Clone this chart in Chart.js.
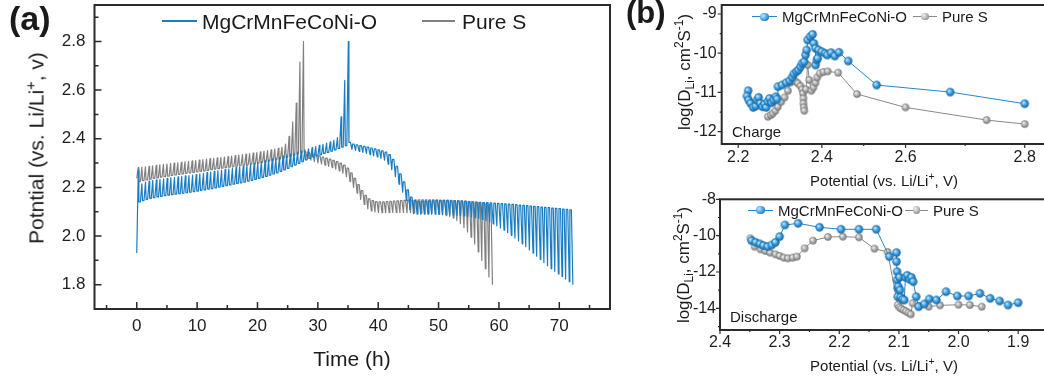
<!DOCTYPE html>
<html>
<head>
<meta charset="utf-8">
<script src="https://cdn.jsdelivr.net/npm/chart.js@4.4.1/dist/chart.umd.min.js"></script>
<style>
html,body{margin:0;padding:0;background:#fff;overflow:hidden;}
#root{position:relative;width:1044px;height:381px;overflow:hidden;font-family:'Liberation Sans',Arial,sans-serif;color:#1a1a1a;background:#fff;}
canvas{position:absolute;}
.t{position:absolute;white-space:nowrap;line-height:1;}
.c{transform:translate(-50%,0);}
.rot{transform:translate(-50%,-50%) rotate(-90deg);}
.t sup,.t sub{font-size:70%;line-height:0;}
.ln{position:absolute;}
.dot{position:absolute;border-radius:50%;}
</style>
</head>
<body>
<div id="root">
  <canvas id="cA" width="620" height="381" style="left:0;top:0"></canvas>
  <canvas id="cB1" width="410" height="190" style="left:640px;top:0"></canvas>
  <canvas id="cB2" width="410" height="191" style="left:640px;top:190px"></canvas>

  <div class="t" style="left:9px;top:1px;font-size:34px;font-weight:bold;">(a)</div>
  <div class="t" style="left:626px;top:-3px;font-size:31px;font-weight:bold;">(b)</div>

  <!-- legend (a) -->
  <div class="ln" style="left:162px;top:20px;width:35px;height:2px;background:#1a7dc3"></div>
  <div class="t" style="left:202px;top:10.7px;font-size:21px;">MgCrMnFeCoNi-O</div>
  <div class="ln" style="left:422px;top:20px;width:33px;height:2px;background:#808080"></div>
  <div class="t" style="left:462px;top:10.7px;font-size:21px;">Pure S</div>

  <!-- axis titles (a) -->
  <div class="t rot" style="left:36px;top:148px;font-size:21px;">Potntial (vs. Li/Li<sup>+</sup>, v)</div>
  <div class="t c" style="left:352px;top:347.7px;font-size:21px;">Time (h)</div>

  <!-- legend (b) top -->
  <div class="ln" style="left:752px;top:16.2px;width:25px;height:1px;background:#2586c8"></div>
  <div class="dot" style="left:760.3px;top:12.5px;width:8.4px;height:8.4px;background:radial-gradient(circle at 35% 35%,#bfe6ff 0%,#2f93d6 60%,#145f99 100%)"></div>
  <div class="t" style="left:782px;top:9.4px;font-size:15px;">MgCrMnFeCoNi-O</div>
  <div class="ln" style="left:913px;top:16.2px;width:24px;height:1px;background:#8a8a8a"></div>
  <div class="dot" style="left:921.3px;top:13px;width:7.4px;height:7.4px;background:radial-gradient(circle at 35% 35%,#f0f0f0 0%,#a6a6a6 60%,#6e6e6e 100%)"></div>
  <div class="t" style="left:942px;top:9.4px;font-size:15px;">Pure S</div>

  <div class="t" style="left:732px;top:123.6px;font-size:15px;">Charge</div>
  <div class="t rot" style="left:684px;top:72px;font-size:17px;">log(D<sub>Li</sub>, cm<sup>2</sup>S<sup>-1</sup>)</div>
  <div class="t c" style="left:884px;top:172.6px;font-size:15px;">Potential (vs. Li/Li<sup>+</sup>, V)</div>

  <!-- legend (b) bottom -->
  <div class="ln" style="left:748px;top:209.5px;width:25px;height:1px;background:#2586c8"></div>
  <div class="dot" style="left:756.3px;top:205.8px;width:8.4px;height:8.4px;background:radial-gradient(circle at 35% 35%,#bfe6ff 0%,#2f93d6 60%,#145f99 100%)"></div>
  <div class="t" style="left:778px;top:202.6px;font-size:15px;">MgCrMnFeCoNi-O</div>
  <div class="ln" style="left:905px;top:209.5px;width:23px;height:1px;background:#8a8a8a"></div>
  <div class="dot" style="left:912.8px;top:206.3px;width:7.4px;height:7.4px;background:radial-gradient(circle at 35% 35%,#f0f0f0 0%,#a6a6a6 60%,#6e6e6e 100%)"></div>
  <div class="t" style="left:933px;top:202.6px;font-size:15px;">Pure S</div>

  <div class="t" style="left:730px;top:309.3px;font-size:15px;">Discharge</div>
  <div class="t rot" style="left:683px;top:265px;font-size:17px;">log(D<sub>Li</sub>, cm<sup>2</sup>S<sup>-1</sup>)</div>
  <div class="t c" style="left:884px;top:357.6px;font-size:15px;">Potential (vs. Li/Li<sup>+</sup>, V)</div>
</div>

<script>
// ================= DATA =================
// (a) GITT curves: pulse start times (h), relaxed voltage and pulse-end voltage (V)
const blueStartV = 1.93;
const blueChargeTime = [0,0.6,1.2,1.8,2.4,3,3.6,4.2,4.8,5.4,6,6.6,7.2,7.8,8.4,9,9.6,10.2,10.8,11.4,12,12.6,13.2,13.8,14.4,15,15.6,16.2,16.8,17.4,18,18.6,19.2,19.8,20.4,21,21.6,22.2,22.8,23.4,24,24.6,25.2,25.8,26.4,27,27.6,28.2,28.8,29.4,30,30.6,31.2,31.8,32.4,33,33.6,34.2,34.8];
const blueChargeRest = [2.140,2.146,2.151,2.155,2.158,2.161,2.163,2.166,2.168,2.170,2.172,2.174,2.176,2.178,2.180,2.183,2.185,2.188,2.190,2.193,2.195,2.198,2.201,2.204,2.207,2.210,2.213,2.216,2.219,2.222,2.226,2.229,2.233,2.237,2.241,2.245,2.250,2.255,2.260,2.266,2.272,2.278,2.285,2.292,2.299,2.306,2.313,2.319,2.325,2.330,2.335,2.340,2.344,2.349,2.354,2.360,2.366,2.372,2.385];
const blueChargeTip = [2.270,2.215,2.222,2.226,2.229,2.231,2.233,2.235,2.237,2.239,2.241,2.243,2.245,2.247,2.249,2.251,2.253,2.256,2.258,2.261,2.263,2.266,2.268,2.271,2.274,2.276,2.279,2.282,2.285,2.288,2.291,2.294,2.298,2.301,2.305,2.309,2.313,2.317,2.321,2.325,2.329,2.333,2.337,2.341,2.345,2.350,2.355,2.359,2.364,2.368,2.373,2.377,2.382,2.387,2.393,2.405,2.490,2.640,2.800];
const blueDischargeTime = [35.4,36,36.6,37.2,37.8,38.4,39,39.6,40.2,40.8,41.4,42,42.6,43.2,43.8,44.4,45,45.6,46.2,46.8,47.4,48,48.6,49.2,49.8,50.4,51,51.6,52.2,52.8,53.4,54,54.6,55.2,55.8,56.4,57,57.6,58.2,58.8,59.4,60,60.6,61.2,61.8,62.4,63,63.6,64.2,64.8,65.4,66,66.6,67.2,67.8,68.4,69,69.6,70.2,70.8,71.4,72];
const blueDischargeRest = [2.378,2.375,2.372,2.369,2.366,2.362,2.358,2.354,2.350,2.345,2.335,2.315,2.287,2.256,2.223,2.190,2.160,2.146,2.143,2.143,2.144,2.145,2.145,2.146,2.146,2.146,2.146,2.145,2.145,2.144,2.144,2.143,2.142,2.141,2.140,2.139,2.138,2.137,2.136,2.135,2.134,2.133,2.132,2.131,2.130,2.129,2.127,2.126,2.125,2.123,2.122,2.121,2.119,2.118,2.117,2.115,2.114,2.113,2.111,2.110,2.108,2.107];
const blueDischargeTip = [2.356,2.352,2.348,2.344,2.340,2.335,2.330,2.325,2.319,2.312,2.296,2.273,2.244,2.213,2.180,2.147,2.108,2.092,2.090,2.090,2.090,2.090,2.090,2.090,2.090,2.089,2.089,2.088,2.087,2.086,2.085,2.083,2.081,2.079,2.076,2.072,2.068,2.063,2.057,2.050,2.042,2.033,2.024,2.014,2.003,1.992,1.980,1.968,1.956,1.943,1.930,1.917,1.904,1.891,1.878,1.866,1.855,1.844,1.834,1.823,1.812,1.800];

const grayStartV = 2.237;
const grayChargeTime = [0,0.6,1.19,1.79,2.38,2.98,3.57,4.17,4.76,5.36,5.95,6.55,7.14,7.74,8.33,8.93,9.52,10.12,10.71,11.31,11.9,12.5,13.09,13.69,14.28,14.88,15.47,16.07,16.66,17.26,17.85,18.45,19.04,19.64,20.23,20.83,21.42,22.02,22.61,23.21,23.8,24.4,24.99,25.59,26.18,26.78,27.37];
const grayChargeRest = [2.224,2.228,2.231,2.234,2.237,2.239,2.242,2.244,2.246,2.249,2.251,2.253,2.255,2.258,2.260,2.262,2.264,2.266,2.268,2.270,2.273,2.275,2.277,2.279,2.281,2.283,2.285,2.287,2.289,2.291,2.293,2.296,2.298,2.300,2.303,2.305,2.308,2.311,2.314,2.317,2.320,2.323,2.327,2.332,2.337,2.342,2.346];
const grayChargeTip = [2.281,2.283,2.285,2.287,2.289,2.291,2.293,2.295,2.296,2.298,2.300,2.301,2.303,2.305,2.307,2.309,2.310,2.312,2.314,2.316,2.318,2.319,2.321,2.323,2.325,2.327,2.329,2.331,2.333,2.335,2.337,2.339,2.341,2.343,2.346,2.349,2.351,2.354,2.357,2.361,2.366,2.378,2.410,2.470,2.547,2.715,2.800];
const grayDischargeTime = [28,28.59,29.18,29.77,30.36,30.95,31.54,32.13,32.72,33.31,33.9,34.49,35.08,35.67,36.26,36.85,37.44,38.03,38.62,39.21,39.8,40.39,40.98,41.57,42.16,42.75,43.34,43.93,44.52,45.11,45.7,46.29,46.88,47.47,48.06,48.65,49.24,49.83,50.42,51.01,51.6,52.19,52.78,53.37,53.96,54.55,55.14,55.73,56.32,56.91,57.5,58.09,58.68];
const grayDischargeRest = [2.345,2.340,2.335,2.330,2.325,2.320,2.316,2.311,2.306,2.300,2.292,2.279,2.260,2.237,2.212,2.187,2.167,2.153,2.146,2.142,2.141,2.141,2.142,2.143,2.144,2.145,2.146,2.147,2.148,2.148,2.149,2.149,2.149,2.149,2.149,2.149,2.149,2.148,2.148,2.148,2.147,2.146,2.146,2.145,2.144,2.142,2.141,2.139,2.137,2.135,2.133,2.130,2.127];
const grayDischargeTip = [2.318,2.312,2.306,2.301,2.296,2.291,2.286,2.281,2.275,2.268,2.259,2.244,2.224,2.200,2.176,2.151,2.130,2.112,2.103,2.099,2.097,2.096,2.096,2.096,2.097,2.097,2.097,2.097,2.096,2.096,2.095,2.095,2.094,2.094,2.093,2.092,2.091,2.089,2.087,2.084,2.080,2.074,2.064,2.051,2.035,2.017,1.995,1.967,1.935,1.900,1.866,1.832,1.800];

// (b) Charge: potential (V) and log(D_Li)
const chargeMgV = [2.224,2.221,2.225,2.230,2.236,2.242,2.245,2.249,2.253,2.258,2.263,2.267,2.271,2.275,2.280,2.285,2.290,2.293,2.295,2.305,2.315,2.323,2.329,2.333,2.339,2.344,2.349,2.353,2.358,2.361,2.364,2.366,2.372,2.378,2.381,2.385,2.385,2.388,2.390,2.392,2.400,2.408,2.413,2.422,2.431,2.441,2.463,2.531,2.675,2.800];
const chargeMgLogD = [-10.956,-11.092,-11.194,-11.279,-11.381,-11.347,-11.194,-11.126,-11.279,-11.364,-11.296,-11.381,-11.236,-11.151,-11.262,-11.194,-11.109,-11.168,-10.854,-10.811,-10.752,-10.701,-10.616,-10.531,-10.471,-10.429,-10.344,-10.259,-10.216,-10.046,-9.918,-9.663,-9.578,-9.519,-9.748,-9.876,-10.301,-10.173,-10.131,-9.918,-9.961,-10.003,-10.046,-9.986,-10.071,-9.978,-10.199,-10.811,-10.990,-11.287];
const chargeSV = [2.271,2.278,2.283,2.289,2.295,2.303,2.311,2.319,2.324,2.331,2.337,2.343,2.349,2.353,2.355,2.356,2.356,2.357,2.358,2.362,2.366,2.370,2.375,2.380,2.385,2.389,2.395,2.404,2.414,2.439,2.484,2.600,2.736,2.800];
const chargeSLogD = [-11.619,-11.577,-11.534,-11.466,-11.364,-11.236,-11.126,-10.956,-10.752,-10.701,-10.718,-10.769,-10.837,-10.922,-11.024,-11.151,-11.279,-11.381,-11.466,-10.922,-10.301,-10.684,-10.956,-10.871,-10.752,-10.616,-10.514,-10.480,-10.463,-10.497,-11.041,-11.381,-11.704,-11.806];

// (b) Discharge: potential (V) and log(D_Li)
const dischargeMgV = [2.347,2.340,2.333,2.327,2.320,2.313,2.307,2.300,2.291,2.269,2.233,2.197,2.167,2.138,2.116,2.104,2.104,2.103,2.103,2.102,2.102,2.101,2.099,2.098,2.097,2.094,2.091,2.089,2.086,2.082,2.079,2.076,2.071,2.067,2.057,2.049,2.037,2.021,2.002,1.983,1.964,1.947,1.931,1.917,1.900];
const dischargeMgLogD = [-10.275,-10.367,-10.459,-10.550,-10.606,-10.514,-10.367,-10.055,-9.413,-9.321,-9.541,-9.651,-9.651,-9.651,-11.156,-10.936,-11.431,-11.982,-12.440,-12.899,-13.358,-12.807,-12.294,-12.991,-13.394,-13.505,-13.541,-12.294,-12.183,-12.404,-12.294,-12.532,-13.358,-13.908,-13.761,-13.486,-13.541,-13.083,-13.321,-13.321,-13.174,-13.450,-13.596,-13.817,-13.688];
const dischargeSV = [2.349,2.342,2.332,2.324,2.316,2.307,2.300,2.293,2.286,2.278,2.271,2.258,2.244,2.219,2.194,2.167,2.141,2.119,2.102,2.099,2.096,2.092,2.088,2.084,2.080,2.077,2.066,2.050,2.031,2.000,1.981,1.961];
const dischargeSLogD = [-10.147,-10.606,-10.752,-10.844,-10.936,-11.028,-11.119,-11.211,-11.248,-11.211,-11.156,-10.697,-10.275,-10.073,-10.055,-10.092,-10.716,-10.899,-13.817,-13.945,-14.018,-14.092,-14.165,-14.239,-14.330,-13.725,-13.872,-13.908,-13.835,-13.798,-13.817,-13.908];

// ================= STYLE =================
const FONT = "'Liberation Sans', Arial, sans-serif";
const BLUE = '#1a7dc3', GRAY = '#808080', BLUE_B = '#2586c8', GRAY_B = '#8a8a8a';
const TXT = '#1f1f1f';
Chart.defaults.font.family = FONT;
Chart.defaults.color = TXT;

const PULSE = 0.25, DROP = 0.1; // shape of one GITT step (h)
function gittPath(times, rests, tips, startV, endAtTip) {
  const pts = [];
  let prev = startV;
  for (let i = 0; i < times.length; i++) {
    pts.push({x: times[i], y: prev});
    pts.push({x: times[i] + PULSE, y: tips[i]});
    if (!(endAtTip && i === times.length - 1)) pts.push({x: times[i] + PULSE + DROP, y: rests[i]});
    prev = rests[i];
  }
  return pts;
}
const zip = (xs, ys) => xs.map((x, i) => ({x, y: ys[i]}));

function sphere(r, light, mid, dark) {
  const s = Math.ceil(2 * r + 2);
  const c = document.createElement('canvas');
  c.width = c.height = s;
  const g = c.getContext('2d');
  const cx = s / 2;
  const grd = g.createRadialGradient(cx - r * 0.35, cx - r * 0.35, r * 0.1, cx, cx, r);
  grd.addColorStop(0, light); grd.addColorStop(0.6, mid); grd.addColorStop(1, dark);
  g.fillStyle = grd;
  g.beginPath(); g.arc(cx, cx, r, 0, Math.PI * 2); g.fill();
  return c;
}
const blueBall = sphere(4.2, '#bfe6ff', '#2f93d6', '#145f99');
const grayBall = sphere(3.7, '#f0f0f0', '#a6a6a6', '#6e6e6e');

// Piecewise linear scale (axis of panel b-charge is stretched above 2.6 V)
const STRETCH_FROM = 2.6, STRETCH = 1.4245;
class PiecewiseScale extends Chart.LinearScale {
  _virt(v) { return v <= STRETCH_FROM ? v : STRETCH_FROM + (v - STRETCH_FROM) * STRETCH; }
  _unvirt(w) { return w <= STRETCH_FROM ? w : STRETCH_FROM + (w - STRETCH_FROM) / STRETCH; }
  getPixelForValue(value) {
    if (value === null || value === undefined || isNaN(value)) return NaN;
    const a = this._virt(this.min), b = this._virt(this.max);
    return this.getPixelForDecimal((this._virt(value) - a) / (b - a));
  }
  getValueForPixel(pixel) {
    const a = this._virt(this.min), b = this._virt(this.max);
    return this._unvirt(a + this.getDecimalForPixel(pixel) * (b - a));
  }
}
PiecewiseScale.id = 'piecewise';
PiecewiseScale.defaults = Chart.LinearScale.defaults;
Chart.register(PiecewiseScale);

const framePlugin = {
  id: 'frame',
  afterDraw(chart, args, o) {
    const {ctx, chartArea: a, scales} = chart;
    const xs = scales.x, ys = scales.y;
    const sgn = o.dir === 'in' ? 1 : -1;
    const minorVals = (scale, step) => {
      const lo = Math.min(scale.min, scale.max), hi = Math.max(scale.min, scale.max);
      const out = [];
      for (let n = Math.ceil(lo / step - 1e-9); n <= Math.floor(hi / step + 1e-9); n++) out.push(n * step);
      return out.filter(v => !scale.ticks.some(t => Math.abs(t.value - v) < step * 1e-3));
    };
    ctx.save();
    ctx.strokeStyle = o.color;
    ctx.lineWidth = o.tickWidth;
    ctx.beginPath();
    xs.ticks.forEach(t => { const p = xs.getPixelForValue(t.value); ctx.moveTo(p, a.bottom); ctx.lineTo(p, a.bottom - sgn * o.major); });
    minorVals(xs, o.xMinor).forEach(v => { const p = xs.getPixelForValue(v); ctx.moveTo(p, a.bottom); ctx.lineTo(p, a.bottom - sgn * o.minor); });
    ys.ticks.forEach(t => { const p = ys.getPixelForValue(t.value); ctx.moveTo(a.left, p); ctx.lineTo(a.left + sgn * o.major, p); });
    minorVals(ys, o.yMinor).forEach(v => { const p = ys.getPixelForValue(v); ctx.moveTo(a.left, p); ctx.lineTo(a.left + sgn * o.minor, p); });
    ctx.stroke();
    ctx.lineWidth = o.width;
    ctx.strokeRect(a.left, a.top, a.right - a.left, a.bottom - a.top);
    ctx.restore();
  }
};

function axis(extra) {
  return Object.assign({
    grid: {display: false, drawTicks: false},
    border: {display: false},
  }, extra);
}
// fixed axis sizes, no automatic label padding
const fixY = w => s => { s.width = w; s.paddingTop = 0; s.paddingBottom = 0; };
const fixX = h => s => { s.height = h; s.paddingLeft = 0; s.paddingRight = 0; };
const common = {
  responsive: false, animation: false, devicePixelRatio: 1,
  events: [],
  elements: {line: {tension: 0}},
};

// ---------- Panel (a) ----------
const blueGitt = gittPath(blueChargeTime, blueChargeRest, blueChargeTip, blueStartV, false)
  .concat(gittPath(blueDischargeTime, blueDischargeRest, blueDischargeTip, blueChargeRest[blueChargeRest.length - 1], true));
const grayGitt = gittPath(grayChargeTime, grayChargeRest, grayChargeTip, grayStartV, false)
  .concat(gittPath(grayDischargeTime, grayDischargeRest, grayDischargeTip, grayChargeRest[grayChargeRest.length - 1], true));

new Chart(document.getElementById('cA'), {
  type: 'scatter',
  data: {datasets: [
    {label: 'MgCrMnFeCoNi-O', data: blueGitt, showLine: true, borderColor: BLUE, borderWidth: 1.2, pointRadius: 0, borderJoinStyle: 'round', order: 0},
    {label: 'Pure S', data: grayGitt, showLine: true, borderColor: GRAY, borderWidth: 1.2, pointRadius: 0, borderJoinStyle: 'round', order: 1},
  ]},
  options: Object.assign({}, common, {
    layout: {padding: {top: 5, right: 10, left: 0, bottom: 0}},
    plugins: {legend: {display: false}, tooltip: {enabled: false},
      frame: {color: '#2b2b2b', width: 2, tickWidth: 1.5, dir: 'in', major: 7, minor: 4, xMinor: 5, yMinor: 0.1}},
    scales: {
      x: axis({type: 'linear', min: -7, max: 78.4, afterFit: fixX(72),
        ticks: {stepSize: 10, includeBounds: false, autoSkip: false, maxRotation: 0, padding: 7.5, font: {size: 17}, color: TXT}}),
      y: axis({type: 'linear', min: 1.7, max: 2.95, afterFit: fixY(94.5),
        ticks: {stepSize: 0.2, includeBounds: false, autoSkip: false, padding: 9, font: {size: 17}, color: TXT, callback: v => v.toFixed(1)}}),
    }
  }),
  plugins: [framePlugin]
});

// ---------- Panel (b) charge ----------
new Chart(document.getElementById('cB1'), {
  type: 'scatter',
  data: {datasets: [
    {label: 'MgCrMnFeCoNi-O', data: zip(chargeMgV, chargeMgLogD), showLine: true, borderColor: BLUE_B, borderWidth: 1, pointStyle: blueBall, pointRadius: 4, order: 0},
    {label: 'Pure S', data: zip(chargeSV, chargeSLogD), showLine: true, borderColor: GRAY_B, borderWidth: 1, pointStyle: grayBall, pointRadius: 4, order: 1},
  ]},
  options: Object.assign({}, common, {
    layout: {padding: {top: 5, right: 3, left: 0, bottom: 0}},
    plugins: {legend: {display: false}, tooltip: {enabled: false},
      frame: {color: '#2b2b2b', width: 2, tickWidth: 1.2, dir: 'out', major: 4, minor: 2, xMinor: 0.1, yMinor: 0.5}},
    scales: {
      x: axis({type: 'piecewise', min: 2.1606, max: 2.834, afterFit: fixX(46),
        ticks: {stepSize: 0.2, includeBounds: false, autoSkip: false, maxRotation: 0, padding: 4, font: {size: 16}, color: TXT, callback: v => v.toFixed(1)}}),
      y: axis({type: 'linear', min: -12.3135, max: -8.771, afterFit: fixY(81.7),
        ticks: {stepSize: 1, includeBounds: false, autoSkip: false, padding: 5, font: {size: 16}, color: TXT, callback: v => String(v)}}),
    }
  }),
  plugins: [framePlugin]
});

// ---------- Panel (b) discharge ----------
new Chart(document.getElementById('cB2'), {
  type: 'scatter',
  data: {datasets: [
    {label: 'MgCrMnFeCoNi-O', data: zip(dischargeMgV, dischargeMgLogD), showLine: true, borderColor: BLUE_B, borderWidth: 1, pointStyle: blueBall, pointRadius: 4, order: 0},
    {label: 'Pure S', data: zip(dischargeSV, dischargeSLogD), showLine: true, borderColor: GRAY_B, borderWidth: 1, pointStyle: grayBall, pointRadius: 4, order: 1},
  ]},
  options: Object.assign({}, common, {
    layout: {padding: {top: 9.3, right: 3, left: 0, bottom: 0}},
    plugins: {legend: {display: false}, tooltip: {enabled: false},
      frame: {color: '#2b2b2b', width: 2, tickWidth: 1.2, dir: 'out', major: 4, minor: 2, xMinor: 0.05, yMinor: 1}},
    scales: {
      x: axis({type: 'linear', reverse: true, min: 1.855, max: 2.4, afterFit: fixX(51),
        ticks: {stepSize: 0.1, includeBounds: false, autoSkip: false, maxRotation: 0, padding: 3, font: {size: 16}, color: TXT, callback: v => v.toFixed(1)}}),
      y: axis({type: 'linear', min: -15.19, max: -8, afterFit: fixY(80),
        ticks: {stepSize: 2, includeBounds: false, autoSkip: false, padding: 4, font: {size: 16}, color: TXT, callback: v => String(v)}}),
    }
  }),
  plugins: [framePlugin]
});
</script>
</body>
</html>
